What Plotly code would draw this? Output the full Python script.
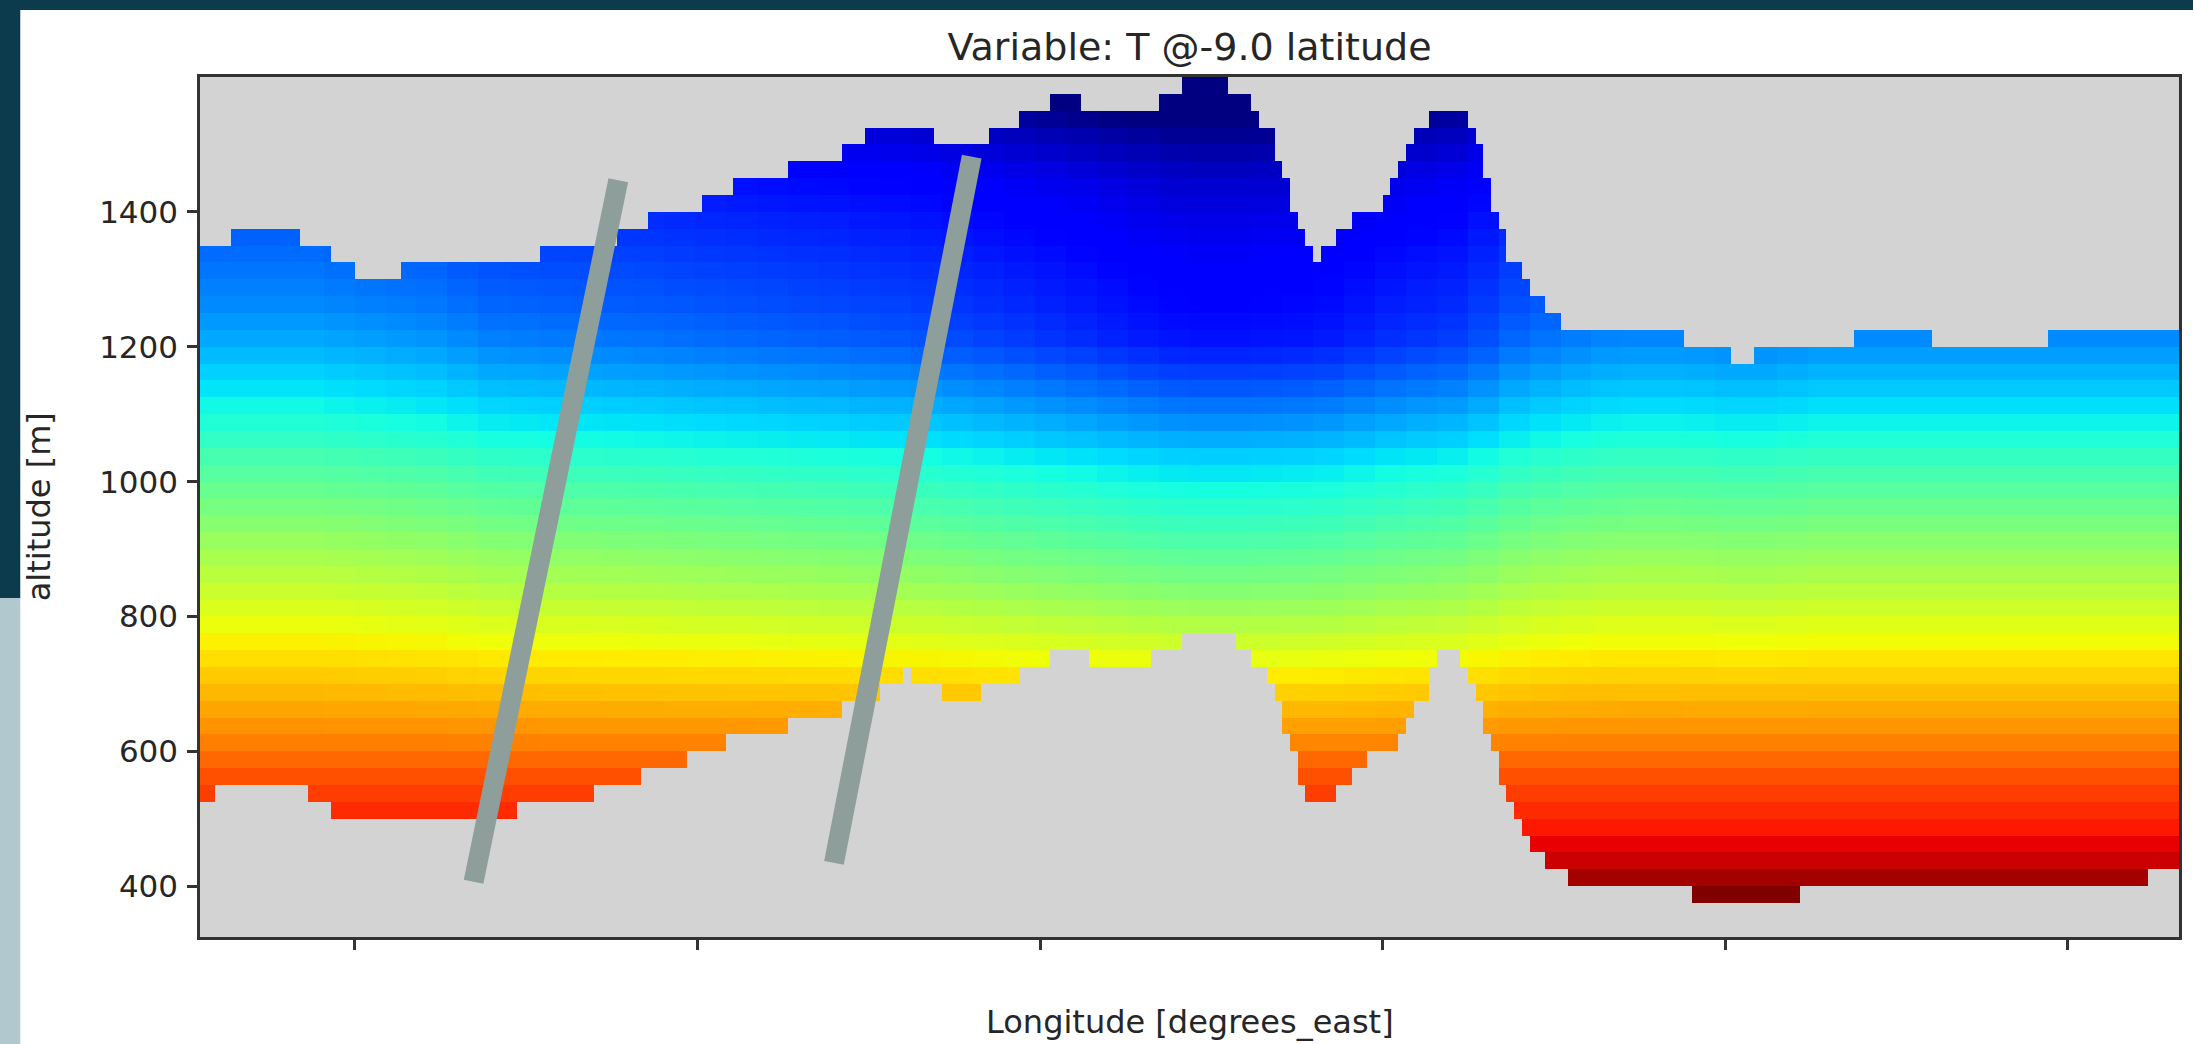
import numpy as np
import plotly.graph_objects as go

# ---------------- data ----------------
TITLE = "Variable: T @-9.0 latitude"
X_LABEL = "Longitude [degrees_east]"
Y_LABEL = "altitude [m]"

# longitude grid (columns) and altitude grid (rows, 25 m cells)
lon_west, lon_east = -78.2258, -75.3380
n_lon = 256
row_centers = [387.5, 412.5, 437.5, 462.5, 487.5, 512.5, 537.5, 562.5, 587.5, 612.5,
               637.5, 662.5, 687.5, 712.5, 737.5, 762.5, 787.5, 812.5, 837.5, 862.5,
               887.5, 912.5, 937.5, 962.5, 987.5, 1012.5, 1037.5, 1062.5, 1087.5, 1112.5,
               1137.5, 1162.5, 1187.5, 1212.5, 1237.5, 1262.5, 1287.5, 1312.5, 1337.5, 1362.5,
               1387.5, 1412.5, 1437.5, 1462.5, 1487.5, 1512.5, 1537.5, 1562.5, 1587.5]
row_half = 12.5

# temperature profile (degC) at the row centres (western part of the section)
temp_profile = [25.50, 25.26, 24.98, 24.78, 24.58, 24.42, 24.26, 24.10, 23.90, 23.70,
                23.54, 23.38, 23.22, 23.06, 22.90, 22.74, 22.58, 22.42, 22.26, 22.10,
                21.94, 21.78, 21.62, 21.46, 21.30, 21.14, 20.98, 20.78, 20.62, 20.46,
                20.30, 20.14, 19.98, 19.82, 19.70, 19.58, 19.50, 19.42, 19.34, 19.26,
                19.18, 19.10, 19.02, 18.90, 18.78, 18.66, 18.50, 18.30, 18.06]
# how strongly the horizontal anomaly shows at each row
anomaly_weight = [0, 0, 0, 0, 0, 0, 0, 0, 0, 0.05,
                  0.10, 0.14, 0.18, 0.24, 0.30, 0.38, 0.46, 0.52, 0.55, 0.58,
                  0.60, 0.62, 0.64, 0.65, 0.66, 0.68, 0.72, 0.77, 0.83, 0.88,
                  0.93, 0.97, 1.0, 1.0, 0.95, 0.90, 0.87, 0.85, 0.83, 0.82,
                  0.80, 0.80, 0.80, 0.80, 0.82, 0.86, 0.92, 0.95, 0.95]
# horizontal temperature anomaly (degC) at ~1200 m, one value per block of 4 columns (west -> east)
temp_anomaly = [0, 0, 0, 0, -0.04, -0.08, -0.12, -0.16, -0.24, -0.32,
                -0.34, -0.37, -0.38, -0.40, -0.42, -0.45, -0.48, -0.50, -0.53, -0.56,
                -0.58, -0.61, -0.64, -0.68, -0.74, -0.80, -0.86, -0.92, -0.98, -1.05,
                -1.12, -1.18, -1.20, -1.20, -1.18, -1.16, -1.12, -1.04, -0.96, -0.90,
                -0.84, -0.70, -0.52, -0.42, -0.34, -0.28, -0.26, -0.26, -0.28, -0.32,
                -0.32, -0.28, -0.24, -0.24, -0.24, -0.24, -0.24, -0.24, -0.24, -0.24,
                -0.24, -0.24, -0.24, -0.24]

# upper edge of valid data (m) as runs: altitude, number of columns
top_alt = [1350, 1375, 1350, 1325, 1300, 1325, 1350, 1375, 1400, 1425, 1450, 1475, 1500, 1525,
           1500, 1525, 1550, 1575, 1550, 1575, 1600, 1575, 1550, 1525, 1475, 1450, 1400, 1375,
           1350, 1325, 1350, 1375, 1400, 1425, 1450, 1475, 1500, 1525, 1550, 1525, 1500, 1450,
           1400, 1375, 1325, 1300, 1275, 1250, 1225, 1200, 1175, 1200, 1225, 1200, 1225]
top_ncol = [4, 9, 4, 3, 6, 18, 10, 4, 7, 4, 7, 7, 3, 9,
            7, 4, 4, 4, 10, 3, 6, 3, 1, 2, 1, 1, 1, 1,
            1, 1, 2, 2, 4, 1, 1, 1, 1, 2, 5, 1, 1, 1,
            1, 1, 2, 1, 2, 2, 16, 6, 3, 13, 10, 15, 17]
# lower edge of valid data (terrain, m) as runs: altitude, number of columns
bottom_alt = [525, 550, 525, 500, 525, 550, 575, 600, 625, 650, 675, 700, 725, 700, 675, 700,
              725, 750, 725, 750, 775, 750, 725, 700, 675, 625, 600, 550, 525, 550, 575, 600,
              625, 650, 675, 725, 750, 725, 700, 675, 625, 600, 550, 525, 500, 475, 450, 425,
              400, 375, 400, 425]
bottom_ncol = [2, 12, 3, 24, 10, 6, 6, 5, 8, 7, 5, 3, 1, 4, 5, 5,
               4, 5, 8, 4, 7, 2, 2, 1, 1, 1, 1, 1, 4, 2, 2, 4,
               1, 1, 2, 1, 3, 1, 1, 1, 1, 1, 1, 1, 1, 1, 2, 3,
               16, 14, 45, 4]

# two grey transect lines (longitude, altitude of their ends)
transect_lon = [[-77.8266, -77.6154], [-77.3007, -77.0997]]
transect_alt = [[407, 1447], [435, 1482]]

x_ticks = [-78.0, -77.5, -77.0, -76.5, -76.0, -75.5]
y_ticks = [400, 600, 800, 1000, 1200, 1400]
x_range = [lon_west, lon_east]
y_range = [325, 1600]
t_min, t_max = 17.5, 25.5

# ---------------- build the field ----------------
rows = np.array(row_centers)
lon_edges = np.linspace(lon_west, lon_east, n_lon + 1)
lon_centers = 0.5 * (lon_edges[:-1] + lon_edges[1:])
top = np.repeat(top_alt, top_ncol)
bot = np.repeat(bottom_alt, bottom_ncol)
anom = np.repeat(temp_anomaly, n_lon // len(temp_anomaly))
z = np.array(temp_profile)[:, None] + np.array(anomaly_weight)[:, None] * anom[None, :]
valid = ((rows - row_half)[:, None] >= bot[None, :]) & ((rows + row_half)[:, None] <= top[None, :])
z = np.where(valid, z, np.nan)


# matplotlib "jet" colour map
def jet(p):
    r = np.interp(p, [0, 0.35, 0.66, 0.89, 1], [0, 0, 1, 1, 0.5])
    g = np.interp(p, [0, 0.125, 0.375, 0.64, 0.91, 1], [0, 0, 1, 1, 0, 0])
    b = np.interp(p, [0, 0.11, 0.34, 0.65, 1], [0.5, 1, 1, 0, 0])
    return "rgb(%d,%d,%d)" % (round(r * 255), round(g * 255), round(b * 255))


stops = [0, 0.11, 0.125, 0.34, 0.35, 0.375, 0.5, 0.64, 0.65, 0.66, 0.75, 0.89, 0.91, 1]
jet_scale = [[s, jet(s)] for s in stops]

FONT = "DejaVu Sans"
TXT = "#262626"

fig = go.Figure()
fig.add_trace(go.Heatmap(
    x=lon_centers, y=rows, z=z,
    colorscale=jet_scale, zmin=t_min, zmax=t_max,
    showscale=False, hoverinfo="skip",
))
for lx, ly in zip(transect_lon, transect_alt):
    fig.add_trace(go.Scatter(
        x=lx, y=ly, mode="lines",
        line=dict(color="#8e9f9b", width=20),
        showlegend=False, hoverinfo="skip",
    ))

W, H = 2193, 1044
ML, MR, MT, MB = 200, 11, 77, 107
pw, ph = W - ML - MR, H - MT - MB


def px(x):
    return (x - ML) / pw


def py(y):
    return (H - MB - y) / ph


shapes = [
    dict(type="rect", xref="paper", yref="paper", x0=px(-5), x1=px(W + 5), y0=py(10), y1=py(-5),
         fillcolor="#0b3b4d", line=dict(width=0), layer="above"),
    dict(type="rect", xref="paper", yref="paper", x0=px(-5), x1=px(20), y0=py(598), y1=py(-5),
         fillcolor="#0b3b4d", line=dict(width=0), layer="above"),
    dict(type="rect", xref="paper", yref="paper", x0=px(-5), x1=px(20), y0=py(H + 5), y1=py(598),
         fillcolor="#b2c8cf", line=dict(width=0), layer="above"),
]

annotations = [
    dict(text=Y_LABEL, xref="paper", yref="paper", x=px(39), y=0.5, textangle=-90,
         showarrow=False, xanchor="center", yanchor="middle",
         font=dict(family=FONT, size=32, color=TXT)),
    dict(text=X_LABEL, xref="paper", yref="paper", x=0.5, y=py(1022),
         showarrow=False, xanchor="center", yanchor="middle",
         font=dict(family=FONT, size=32, color=TXT)),
]

axis_common = dict(showline=True, mirror=True, linecolor="#333333", linewidth=2.5,
                   ticks="outside", ticklen=10, tickwidth=2.5, tickcolor="#333333",
                   showgrid=False, zeroline=False)

fig.update_layout(
    width=W, height=H,
    margin=dict(l=ML, r=MR, t=MT, b=MB, pad=0),
    paper_bgcolor="white", plot_bgcolor="#d3d3d3",
    title=dict(text=TITLE, x=0.5, xref="paper", xanchor="center",
               y=1 - 47 / H, yref="container", yanchor="middle",
               font=dict(family=FONT, size=38, color=TXT)),
    xaxis=dict(range=x_range, tickvals=x_ticks, tickfont=dict(family=FONT, size=31, color="white"),
               **axis_common),
    yaxis=dict(range=y_range, tickvals=y_ticks, tickfont=dict(family=FONT, size=31, color=TXT),
               ticklabelstandoff=3, **axis_common),
    shapes=shapes, annotations=annotations,
    showlegend=False,
)

fig.write_html("out.html", config={"displayModeBar": False},
               post_script="document.body.style.margin='0';document.body.style.overflow='hidden';")
